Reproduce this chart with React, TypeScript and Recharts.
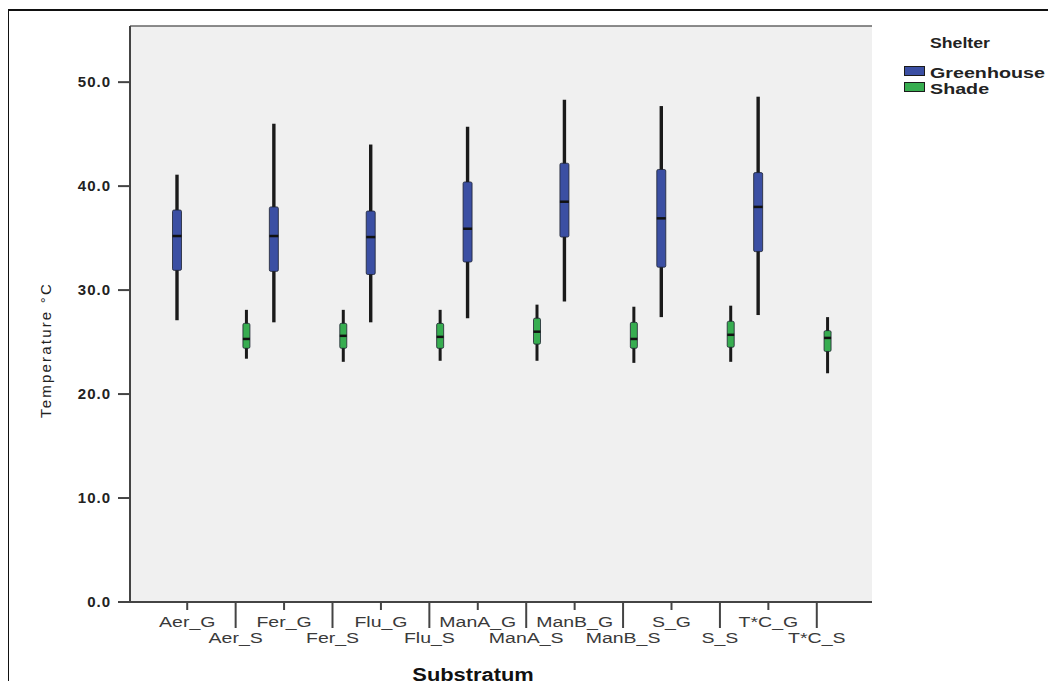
import { Bar, CartesianGrid, ComposedChart, Legend, ReferenceLine, XAxis, YAxis } from "recharts";

const categories = ["Aer_G", "Aer_S", "Fer_G", "Fer_S", "Flu_G", "Flu_S", "ManA_G", "ManA_S", "ManB_G", "ManB_S", "S_G", "S_S", "T*C_G", "T*C_S"];
const shelters = ["Greenhouse", "Shade", "Greenhouse", "Shade", "Greenhouse", "Shade", "Greenhouse", "Shade", "Greenhouse", "Shade", "Greenhouse", "Shade", "Greenhouse", "Shade"];
const mins = [27.1, 23.4, 26.9, 23.1, 26.9, 23.2, 27.3, 23.2, 28.9, 23.0, 27.4, 23.1, 27.6, 22.0];
const q1s = [31.9, 24.4, 31.8, 24.4, 31.5, 24.4, 32.7, 24.8, 35.1, 24.4, 32.2, 24.5, 33.7, 24.1];
const medians = [35.2, 25.3, 35.2, 25.6, 35.1, 25.5, 35.9, 26.0, 38.5, 25.3, 36.9, 25.7, 38.0, 25.4];
const q3s = [37.7, 26.8, 38.0, 26.8, 37.6, 26.8, 40.4, 27.3, 42.2, 26.9, 41.6, 27.0, 41.3, 26.1];
const maxs = [41.1, 28.1, 46.0, 28.1, 44.0, 28.1, 45.7, 28.6, 48.3, 28.4, 47.7, 28.5, 48.6, 27.4];
const yTicks = [0, 10, 20, 30, 40, 50];
const yMax = 55.4;

const font = '"Liberation Sans", Arial, sans-serif';
const ghColor = "#3b4fa3";
const shColor = "#37ad50";

const rows = categories.map((name, i) => {
  const stats = { min: mins[i], q1: q1s[i], median: medians[i], q3: q3s[i], max: maxs[i] };
  return {
    name,
    gh: shelters[i] === "Greenhouse" ? stats : null,
    sh: shelters[i] === "Shade" ? stats : null,
  };
});

const ghRange = (d: any) => (d.gh ? [d.gh.min, d.gh.max] : null);
const shRange = (d: any) => (d.sh ? [d.sh.min, d.sh.max] : null);

function boxShape(key: "gh" | "sh", color: string, boxW: number, whiskerW: number) {
  return (props: any) => {
    const { x, y, width, height, payload } = props;
    const s = payload?.[key];
    if (!s) return null;
    const top = Math.min(y, y + height);
    const bottom = Math.max(y, y + height);
    const py = (v: number) => top + ((s.max - v) / (s.max - s.min)) * (bottom - top);
    const cx = x + width / 2;
    return (
      <g>
        <line x1={cx} x2={cx} y1={py(s.max)} y2={py(s.min)} stroke="#1a1a1a" strokeWidth={whiskerW} />
        <rect
          x={cx - boxW / 2}
          y={py(s.q3)}
          width={boxW}
          height={py(s.q1) - py(s.q3)}
          fill={color}
          stroke="#1d2230"
          strokeWidth={0.8}
          rx={1.5}
        />
        <line x1={cx - boxW / 2} x2={cx + boxW / 2} y1={py(s.median)} y2={py(s.median)} stroke="#111" strokeWidth={2.5} />
      </g>
    );
  };
}

// SPSS output is stretched sideways, so labels get a horizontal scale
function StaggerTick(props: any) {
  const { x, y, payload, index } = props;
  const low = index % 2 === 1;
  const ty = y + (low ? 41 : 25);
  return (
    <g>
      <line x1={x} x2={x} y1={y} y2={y + (low ? 26 : 8)} stroke="#444" strokeWidth={2} />
      <text
        transform={`translate(${x},${ty}) scale(1.3,1)`}
        textAnchor="middle"
        fontFamily={font}
        fontSize={15}
        fill="#3a3a3a"
      >
        {payload.value}
      </text>
    </g>
  );
}

function ShelterLegend({ payload }: any) {
  const items = payload || [];
  const stretch = (s: number) => ({ transform: `scaleX(${s})`, transformOrigin: "left center" });
  return (
    <div style={{ position: "relative", fontFamily: font, color: "#222", fontWeight: 700 }}>
      <div style={{ position: "absolute", left: 921, top: 23, fontSize: 14.5, lineHeight: "18px", whiteSpace: "nowrap", ...stretch(1.22) }}>
        Shelter
      </div>
      {items.map((it: any, i: number) => (
        <div key={it.value}>
          <div
            style={{
              position: "absolute",
              left: 895,
              top: 55 + i * 16,
              width: 21,
              height: 10,
              boxSizing: "border-box",
              border: "1px solid #1b1b1b",
              background: it.color,
            }}
          />
          <div style={{ position: "absolute", left: 921, top: 53 + i * 16, fontSize: 15.5, lineHeight: "18px", whiteSpace: "nowrap", ...stretch(1.27) }}>
            {it.value}
          </div>
        </div>
      ))}
    </div>
  );
}

export default function App() {
  return (
    <div
      style={{
        position: "relative",
        top: 1,
        left: -1,
        width: 1043,
        height: 689,
        marginBottom: -16,
        boxSizing: "border-box",
        border: "2px solid #111",
        borderBottom: "none",
        background: "#fff",
      }}
    >
      <ComposedChart
        width={1039}
        height={687}
        data={rows}
        margin={{ top: 15, right: 176, bottom: 36, left: 21 }}
        barGap={11}
      >
        <CartesianGrid fill="#f0f0f0" horizontal={false} vertical={false} />
        <XAxis
          dataKey="name"
          interval={0}
          height={60}
          padding={{ left: 33, right: 31 }}
          tickSize={0}
          tickMargin={0}
          tickLine={false}
          tick={<StaggerTick />}
          axisLine={{ stroke: "#444", strokeWidth: 2 }}
          label={({ viewBox }: any) => {
            const cx = viewBox.x + viewBox.width / 2 - 28;
            const cy = viewBox.y + 79;
            return (
              <text
                transform={`translate(${cx},${cy}) scale(1.15,1)`}
                textAnchor="middle"
                fontFamily={font}
                fontSize={19}
                fontWeight={700}
                fill="#111"
              >
                Substratum
              </text>
            );
          }}
        />
        <YAxis
          type="number"
          domain={[0, yMax]}
          ticks={yTicks}
          width={100}
          tickSize={12}
          tickMargin={7}
          tickFormatter={(v: number) => v.toFixed(1)}
          tick={{ fontFamily: font, fontSize: 15, fontWeight: 700, fill: "#222", letterSpacing: 1 }}
          tickLine={{ stroke: "#444", strokeWidth: 2 }}
          axisLine={{ stroke: "#444", strokeWidth: 2 }}
          label={({ viewBox }: any) => {
            const cx = viewBox.x + 15;
            const cy = viewBox.y + viewBox.height / 2 + 36;
            return (
              <text
                x={cx}
                y={cy}
                transform={`rotate(-90, ${cx}, ${cy})`}
                textAnchor="middle"
                dominantBaseline="central"
                fontFamily={font}
                fontSize={15}
                letterSpacing={2.2}
                fill="#222"
              >
                Temperature °C
              </text>
            );
          }}
        />
        <YAxis
          yAxisId="frame"
          orientation="right"
          type="number"
          domain={[0, yMax]}
          width={0}
          tick={false}
          tickLine={false}
          axisLine={{ stroke: "#666", strokeWidth: 1.5 }}
        />
        <ReferenceLine y={yMax} stroke="#666" strokeWidth={1.5} />
        <Legend
          layout="horizontal"
          verticalAlign="top"
          align="left"
          wrapperStyle={{ left: 0, top: 0, width: 0, height: 0 }}
          content={<ShelterLegend />}
        />
        <Bar
          dataKey={ghRange}
          name="Greenhouse"
          fill={ghColor}
          barSize={10}
          shape={boxShape("gh", ghColor, 9, 3.4)}
          isAnimationActive={false}
        />
        <Bar
          dataKey={shRange}
          name="Shade"
          fill={shColor}
          barSize={10}
          shape={boxShape("sh", shColor, 7, 3)}
          isAnimationActive={false}
        />
      </ComposedChart>
    </div>
  );
}
